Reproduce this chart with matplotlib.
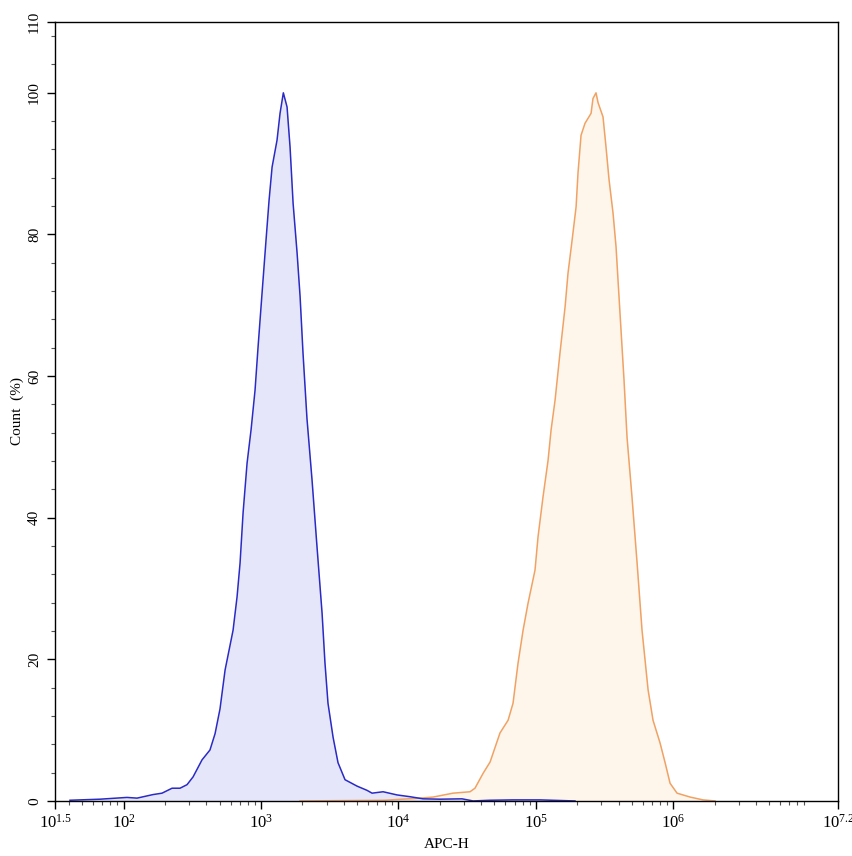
import numpy as np
import matplotlib
matplotlib.use("Agg")
import matplotlib.pyplot as plt
from matplotlib.ticker import FixedLocator, NullFormatter

plt.rcParams['font.family'] = ['Liberation Serif', 'DejaVu Serif']
plt.rcParams['mathtext.fontset'] = 'custom'
plt.rcParams['mathtext.rm'] = 'Liberation Serif'
plt.rcParams['mathtext.it'] = 'Liberation Serif:italic'

# log10(APC-H) positions and Count (%)
blue_log = [1.609, 1.828, 2.024, 2.097, 2.213, 2.279, 2.352, 2.410, 2.461, 2.505,
            2.570, 2.628, 2.665, 2.701, 2.738, 2.796, 2.825, 2.847, 2.869, 2.898,
            2.927, 2.956, 2.978, 3.007, 3.036, 3.058, 3.080, 3.116, 3.138, 3.162,
            3.189, 3.211, 3.233, 3.262, 3.284, 3.305, 3.334, 3.371, 3.407, 3.444,
            3.465, 3.487, 3.524, 3.560, 3.611, 3.698, 3.771, 3.808, 3.888, 3.990,
            4.084, 4.179, 4.303, 4.463, 4.543, 4.667, 4.834, 5.031, 5.285]
blue_cnt = [0.1, 0.25, 0.5, 0.4, 0.9, 1.1, 1.8, 1.8, 2.3, 3.4,
            5.8, 7.2, 9.5, 13.0, 18.5, 24.1, 28.8, 33.6, 40.7, 47.7,
            52.4, 58.0, 64.1, 71.7, 79.2, 84.8, 89.5, 93.3, 97.1, 100.0,
            98.0, 92.3, 84.4, 77.4, 71.2, 63.3, 54.0, 45.3, 35.9, 26.5,
            19.5, 13.8, 9.0, 5.4, 3.0, 2.1, 1.5, 1.1, 1.3, 0.85,
            0.6, 0.3, 0.25, 0.3, 0.0, 0.1, 0.15, 0.15, 0.0]

orange_log = [3.283, 3.900, 4.157, 4.252, 4.397, 4.521, 4.557, 4.616, 4.667, 4.739,
              4.798, 4.834, 4.870, 4.907, 4.943, 4.994, 5.016, 5.052, 5.089, 5.111,
              5.140, 5.176, 5.213, 5.234, 5.264, 5.293, 5.307, 5.329, 5.358, 5.402,
              5.416, 5.438, 5.453, 5.489, 5.511, 5.533, 5.562, 5.584, 5.598, 5.620,
              5.642, 5.664, 5.700, 5.737, 5.773, 5.817, 5.853, 5.904, 5.941, 5.977,
              6.028, 6.123, 6.217, 6.304]
orange_cnt = [0.0, 0.1, 0.4, 0.55, 1.1, 1.3, 1.8, 3.9, 5.5, 9.6,
              11.4, 13.8, 19.4, 24.1, 27.9, 32.6, 37.3, 42.9, 48.1, 52.4,
              56.6, 63.3, 69.8, 74.5, 79.2, 83.9, 88.7, 94.0, 95.7, 97.1,
              99.2, 100.0, 98.6, 96.6, 92.3, 87.7, 83.0, 78.2, 73.6, 66.5,
              59.4, 51.3, 42.9, 33.6, 24.1, 15.7, 11.4, 8.2, 5.4, 2.5,
              1.1, 0.55, 0.15, 0.0]

x_tick_exp = [1.5, 2, 3, 4, 5, 6, 7.2]
x_tick_lab = ['$10^{1.5}$', '$10^{2}$', '$10^{3}$', '$10^{4}$', '$10^{5}$', '$10^{6}$', '$10^{7.2}$']
y_ticks = [0, 20, 40, 60, 80, 100, 110]

fig = plt.figure(figsize=(8.53, 8.56), dpi=100)
ax = fig.add_axes([0.0645, 0.0643, 0.918, 0.910])

bx = 10 ** np.array(blue_log)
ox = 10 ** np.array(orange_log)
ax.fill_between(ox, orange_cnt, 0, color='#FEF5EB', lw=0)
ax.plot(ox, orange_cnt, color='#EFA264', lw=1.1)
ax.fill_between(bx, blue_cnt, 0, color='#E6E6FA', lw=0)
ax.plot(bx, blue_cnt, color='#2A2AC4', lw=1.1)

ax.set_xscale('log')
ax.set_xlim(10 ** 1.5, 10 ** 7.2)
ax.set_ylim(0, 110)

ax.set_xticks([10 ** e for e in x_tick_exp])
ax.set_xticklabels(x_tick_lab, fontsize=12)
minors = [m * 10 ** d for d in range(1, 8) for m in range(2, 10)
          if 10 ** 1.5 < m * 10 ** d < 10 ** 7.2]
ax.xaxis.set_minor_locator(FixedLocator(minors))
ax.xaxis.set_minor_formatter(NullFormatter())

ax.set_yticks(y_ticks)
ax.set_yticklabels([str(v) for v in y_ticks], fontsize=11, rotation=90, va='center')
ax.yaxis.set_minor_locator(FixedLocator(list(range(0, 110, 4))))

ax.tick_params(which='major', direction='out', length=6, width=1, color='black')
ax.tick_params(which='minor', direction='out', length=3, width=0.8, color='#555555')
ax.tick_params(axis='y', pad=4)

for s in ax.spines.values():
    s.set_linewidth(1)
    s.set_color('black')

ax.set_xlabel('APC-H', fontsize=11, labelpad=4)
ax.set_ylabel('Count  (%)', fontsize=11, labelpad=3)

fig.savefig('out.png', dpi=100)
